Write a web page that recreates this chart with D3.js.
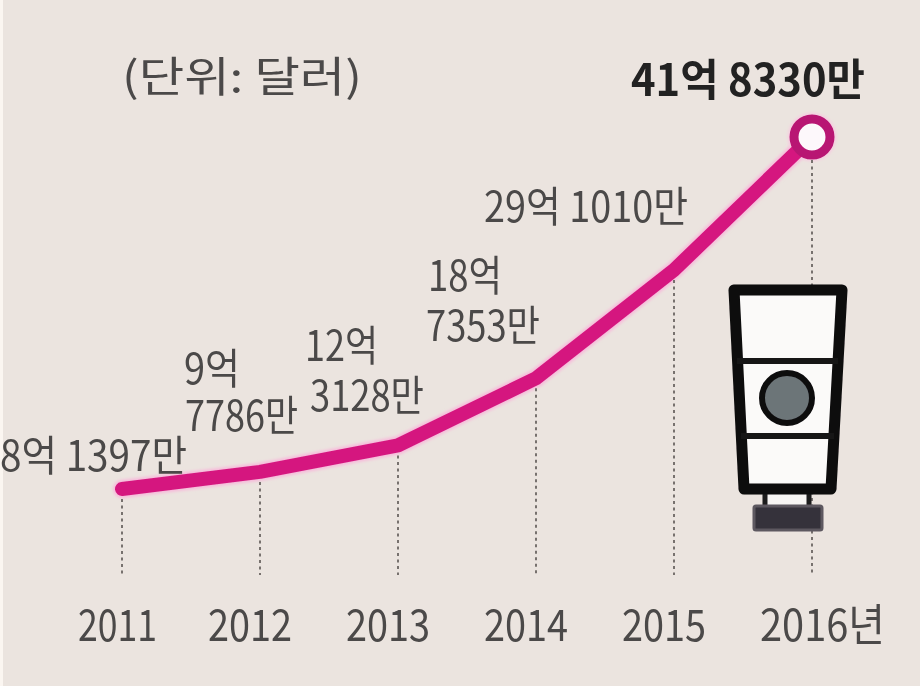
<!DOCTYPE html>
<html>
<head>
<meta charset="utf-8">
<title>매출 추이</title>
<style>
html, body { margin: 0; padding: 0; background: #ebe4df; }
svg { display: block; }
text { font-family: "Noto Sans CJK KR", sans-serif; fill: #4b4948; }
.big { font-weight: 700; fill: #232121; }
</style>
</head>
<body>
<svg width="920" height="686"></svg>
<script src="https://cdnjs.cloudflare.com/ajax/libs/d3/7.8.5/d3.min.js"></script>
<script>
var years = [2011, 2012, 2013, 2014, 2015, 2016];
var values = [8.1397, 9.7786, 12.3128, 18.7353, 29.1010, 41.8330];
var tickLabels = ["2011", "2012", "2013", "2014", "2015", "2016년"];
var valueLabels = [["8억 1397만"], ["9억", "7786만"], ["12억", "3128만"], ["18억", "7353만"], ["29억 1010만"], ["41억 8330만"]];
var unitLabel = "(단위: 달러)";

// where each label line sits: left x, baseline y, width of the text
var labelBoxes = [
  [[0, 471, 187]],
  [[184, 384, 56], [185, 431, 113]],
  [[305, 361, 73], [310, 411, 114]],
  [[428, 291, 74], [426, 341, 114]],
  [[484, 222, 204]],
  [[631, 96, 234]]
];
var tickBoxes = [[78, 79], [208, 84], [346, 84], [484, 84], [622, 84], [760, 125]];

var width = 920, height = 686;
var svg = d3.select("svg");

var x = d3.scaleLinear().domain([2011, 2016]).range([122, 812]);
var y = d3.scaleLinear().domain([8.1397, 41.8330]).range([489, 137]);
var axisY = 575;

var defs = svg.append("defs");
defs.append("filter").attr("id", "soft")
  .append("feGaussianBlur").attr("stdDeviation", 0.7);
defs.append("filter").attr("id", "glow")
  .attr("filterUnits", "userSpaceOnUse")
  .attr("x", 0).attr("y", 0).attr("width", width).attr("height", height)
  .append("feGaussianBlur").attr("stdDeviation", 1.6);

svg.append("rect").attr("width", width).attr("height", height).attr("fill", "#ebe4df");
svg.append("rect").attr("width", 3).attr("height", height).attr("fill", "#fbf6f1");

var points = years.map(function(d, i) { return [x(d), y(values[i])] });
var line = d3.line().curve(d3.curveLinear);

// pale halo goes under everything else
svg.append("path")
  .attr("d", line(points))
  .attr("fill", "none")
  .attr("stroke", "#f7b9da")
  .attr("stroke-width", 18)
  .attr("stroke-linejoin", "round")
  .attr("stroke-linecap", "round")
  .attr("filter", "url(#glow)");
svg.append("circle")
  .attr("cx", x(2016))
  .attr("cy", y(41.8330))
  .attr("r", 24)
  .attr("fill", "#f7c9e0")
  .attr("filter", "url(#glow)");

var chart = svg.append("g").attr("filter", "url(#soft)");

// dotted drop lines
chart.selectAll("line.drop")
  .data(years)
  .enter()
  .append("line")
  .attr("class", "drop")
  .attr("x1", function(d) { return x(d) })
  .attr("x2", function(d) { return x(d) })
  .attr("y1", function(d, i) { return y(values[i]) + 10 })
  .attr("y2", axisY)
  .attr("stroke", "#77716e")
  .attr("stroke-width", 2)
  .attr("stroke-dasharray", "3 3.5");

// bottle sits on top of the last drop line
var bottle = chart.append("g");
bottle.append("path")
  .attr("d", "M767,490H807V506H767Z")
  .attr("fill", "#f7f5f3");
bottle.selectAll("line.neck")
  .data([765, 809])
  .enter()
  .append("line")
  .attr("x1", function(d) { return d })
  .attr("x2", function(d) { return d })
  .attr("y1", 488)
  .attr("y2", 507)
  .attr("stroke", "#1c1a1c")
  .attr("stroke-width", 5);
bottle.append("path")
  .attr("d", "M734,290H842L831,489H744Z")
  .attr("fill", "#fbfaf9")
  .attr("stroke", "#0c0b0c")
  .attr("stroke-width", 11)
  .attr("stroke-linejoin", "round");
bottle.append("line")
  .attr("x1", 737).attr("x2", 838).attr("y1", 361).attr("y2", 361)
  .attr("stroke", "#141214").attr("stroke-width", 6);
bottle.append("line")
  .attr("x1", 741).attr("x2", 834).attr("y1", 436).attr("y2", 436)
  .attr("stroke", "#141214").attr("stroke-width", 6);
bottle.append("circle")
  .attr("cx", 787).attr("cy", 398).attr("r", 25)
  .attr("fill", "#6c7478")
  .attr("stroke", "#0f0e10")
  .attr("stroke-width", 6);
bottle.append("rect")
  .attr("x", 754).attr("y", 506).attr("width", 68).attr("height", 24).attr("rx", 2)
  .attr("fill", "#35313a")
  .attr("stroke", "#5d5860")
  .attr("stroke-width", 3);

// trend line
chart.append("path")
  .attr("d", line(points))
  .attr("fill", "none")
  .attr("stroke", "#d5187f")
  .attr("stroke-width", 14)
  .attr("stroke-linejoin", "round")
  .attr("stroke-linecap", "round");

chart.append("circle")
  .attr("cx", x(2016))
  .attr("cy", y(41.8330))
  .attr("r", 18)
  .attr("fill", "#fdf8fb")
  .attr("stroke", "#b81473")
  .attr("stroke-width", 9);

// value labels
var labels = chart.append("g");
valueLabels.forEach(function(lines, i) {
  lines.forEach(function(txt, j) {
    var box = labelBoxes[i][j];
    labels.append("text")
      .attr("class", i == valueLabels.length - 1 ? "big" : null)
      .attr("x", box[0])
      .attr("y", box[1])
      .attr("font-size", i == valueLabels.length - 1 ? 44 : 42)
      .attr("textLength", box[2])
      .attr("lengthAdjust", "spacingAndGlyphs")
      .text(txt);
  });
});

labels.append("text")
  .attr("x", 122)
  .attr("y", 92)
  .attr("font-size", 42)
  .attr("textLength", 240)
  .attr("lengthAdjust", "spacingAndGlyphs")
  .text(unitLabel);

// year labels
chart.selectAll("text.tick")
  .data(tickLabels)
  .enter()
  .append("text")
  .attr("class", "tick")
  .attr("x", function(d, i) { return tickBoxes[i][0] })
  .attr("y", 641)
  .attr("font-size", 44)
  .attr("textLength", function(d, i) { return tickBoxes[i][1] })
  .attr("lengthAdjust", "spacingAndGlyphs")
  .text(function(d) { return d });
</script>
</body>
</html>
